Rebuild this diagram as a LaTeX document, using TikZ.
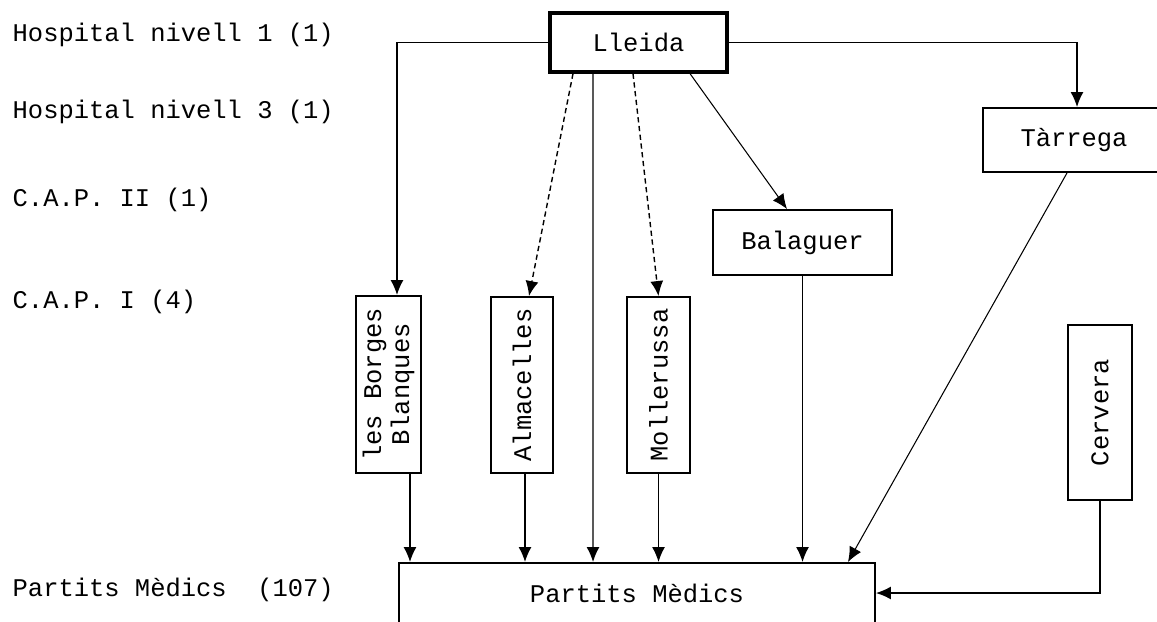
\documentclass[tikz,border=0pt]{standalone}
\usepackage{fontspec}
\setmonofont{Liberation Mono}
\usetikzlibrary{arrows.meta}
\tikzset{
    box/.style={draw, line width=1.1pt, inner sep=0pt, font=\ttfamily\fontsize{14.5}{16}\selectfont},
    vbox/.style={box, rotate=90, align=center},
    level/.style={anchor=west, inner sep=0pt, font=\ttfamily\fontsize{14.5}{16}\selectfont},
}
\begin{document}
\begin{tikzpicture}[x=0.02cm, y=-0.02cm, >={Latex[length=3mm,width=2.6mm]}, line width=0.8pt]
                \clip (0,0) rectangle (1157,622);
                % Levels
                \node[level] (nivell1) at (12,35) {Hospital nivell 1 (1)};
                \node[level] (nivell3) at (12,112) {Hospital nivell 3 (1)};
                \node[level] (capII) at (12,200) {C.A.P. II (1)};
                \node[level] (capI) at (12,302) {C.A.P. I (4)};
                \node[level] (partitsN) at (12,590) {Partits Mèdics~~(107)};

                % Centres
                \node[box, line width=1.8pt, minimum width=3.54cm, minimum height=1.18cm] (lleida) at (638.5,42.5) {Lleida};
                \node[box, minimum width=3.64cm, minimum height=1.28cm] (tarrega) at (1074,140) {Tàrrega};
                \node[box, minimum width=3.58cm, minimum height=1.3cm] (balaguer) at (802.5,242.5) {Balaguer};
                \node[vbox, minimum width=3.54cm, minimum height=1.3cm] (borges) at (388.5,384.5) {les Borges\\Blanques};
                \node[vbox, minimum width=3.52cm, minimum height=1.24cm] (almacelles) at (522,385) {Almacelles};
                \node[vbox, minimum width=3.52cm, minimum height=1.26cm] (mollerussa) at (658.5,385) {Mollerussa};
                \node[vbox, minimum width=3.5cm, minimum height=1.28cm] (cervera) at (1100,412.5) {Cervera};
                \node[box, minimum width=9.52cm, minimum height=1.2cm] (partits) at (637,593) {Partits Mèdics};

                % From Lleida
                \draw[->] (lleida.west) -| ([xshift=0.17cm]borges.east);
                \draw[->, densely dashed] ([xshift=-1.31cm]lleida.south) -- ([xshift=0.14cm]almacelles.east);
                \draw[->] ([xshift=-0.91cm]lleida.south) -- ([xshift=-0.88cm]partits.north);
                \draw[->, densely dashed] ([xshift=-0.11cm]lleida.south) -- (mollerussa.east);
                \draw[->, line width=0.6pt] ([xshift=1.03cm]lleida.south) -- ([xshift=-0.31cm]balaguer.north);
                \draw[->] (lleida.east) -| ([xshift=0.06cm]tarrega.north);

                % To Partits Medics
                \draw[->] ([xshift=0.43cm]borges.west) -- ([xshift=0.43cm]borges.west |- partits.north);
                \draw[->] ([xshift=0.06cm]almacelles.west) -- ([xshift=0.06cm]almacelles.west |- partits.north);
                \draw[->] (mollerussa.west) -- (mollerussa.west |- partits.north);
                \draw[->] (balaguer.south) -- (balaguer.south |- partits.north);
                \draw[->, line width=0.6pt] ([xshift=-0.14cm]tarrega.south) -- ([xshift=4.22cm]partits.north);
                \draw[->] (cervera.west) |- (partits.east);
\end{tikzpicture}
\end{document}
